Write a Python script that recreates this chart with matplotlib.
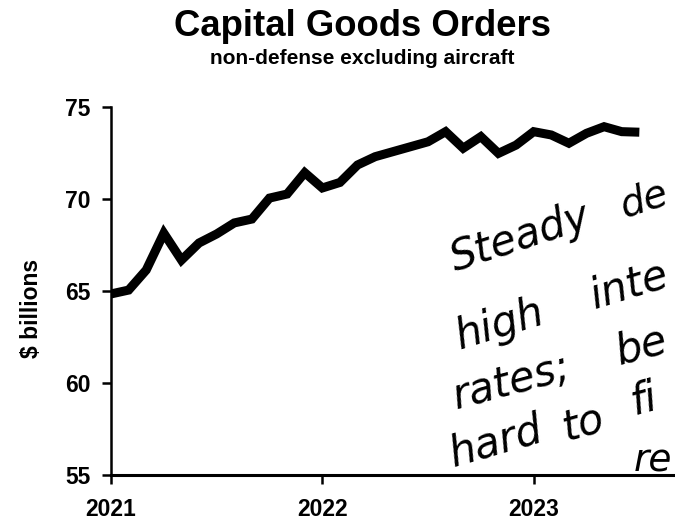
import matplotlib
matplotlib.use("Agg")
import matplotlib.pyplot as plt

# ---- data -------------------------------------------------------------
months = list(range(31))  # Jan 2021 ... Jul 2023 (monthly)
orders = [64.84, 65.05, 66.14, 68.14, 66.68, 67.61, 68.10, 68.70, 68.91, 70.05,
          70.27, 71.43, 70.60, 70.90, 71.85, 72.30, 72.57, 72.84, 73.11, 73.66,
          72.76, 73.39, 72.48, 72.93, 73.66, 73.48, 73.03, 73.57, 73.93, 73.66,
          73.63]
year_ticks = [2021, 2022, 2023]
year_labels = ["2021", "2022", "2023"]
y_ticks = [55, 60, 65, 70, 75]
title = "Capital Goods Orders"
subtitle = "non-defense excluding aircraft"
ylabel = "$ billions"
note_words = ["Steady", "de", "high", "inte", "rates;", "be", "hard", "to", "fi", "re"]

# ---- figure -----------------------------------------------------------
W, H = 675, 520
fig = plt.figure(figsize=(W / 100, H / 100), dpi=100)
fig.patch.set_facecolor("white")

def px(x, y):
    return x / W, 1 - y / H

ax_left, ax_right, ax_top, ax_bot = 111, 745, 107, 475
ax = fig.add_axes([ax_left / W, 1 - ax_bot / H, (ax_right - ax_left) / W,
                   (ax_bot - ax_top) / H])

x = [2021 + m / 12 for m in months]
ax.plot(x, orders, color="black", lw=6.5, solid_joinstyle="miter",
        solid_capstyle="butt")

ax.set_xlim(2021, 2024)
ax.set_ylim(55, 75)
ax.set_xticks(year_ticks)
ax.set_xticklabels(year_labels)
ax.set_yticks(y_ticks)
ax.set_yticklabels([str(v) for v in y_ticks])

for s in ["top", "right"]:
    ax.spines[s].set_visible(False)
ax.spines["left"].set_linewidth(1.8)
ax.spines["bottom"].set_linewidth(2.2)
ax.tick_params(axis="both", direction="out", length=6.5, width=1.8,
               colors="black")
ax.tick_params(axis="y", pad=8)
ax.tick_params(axis="x", pad=10)
for lab in ax.get_xticklabels() + ax.get_yticklabels():
    lab.set_fontfamily("Liberation Sans")
    lab.set_fontweight("bold")
    lab.set_fontsize(16.5)

fig.text(*px(362, 27), title, ha="center", va="center",
         fontfamily="Liberation Sans", fontweight="bold", fontsize=26.3)
fig.text(*px(362, 59), subtitle, ha="center", va="center",
         fontfamily="Liberation Sans", fontweight="bold", fontsize=15)
fig.text(*px(31, 308), ylabel, ha="center", va="center", rotation=90,
         fontfamily="Liberation Sans", fontweight="bold", fontsize=16.5)

# handwritten note (word positions: left baseline, rotation, size)
note_pos = [(455, 271, 18, 30), (624, 218, 18, 28),
            (460, 349, 17, 30), (594, 309, 17, 30),
            (456, 409, 15, 30), (619, 365, 15, 30),
            (453, 467, 16, 30), (566, 441, 16, 30), (634, 415, 15, 30),
            (634, 471, 0, 27)]
for w, (xx, yy, r, fs) in zip(note_words, note_pos):
    fig.text(*px(xx, yy), w, ha="left", va="baseline", rotation=r,
             rotation_mode="anchor", fontfamily="DejaVu Sans",
             fontstyle="oblique", fontsize=fs, color="black")

fig.savefig("out.png", dpi=100, facecolor="white")
